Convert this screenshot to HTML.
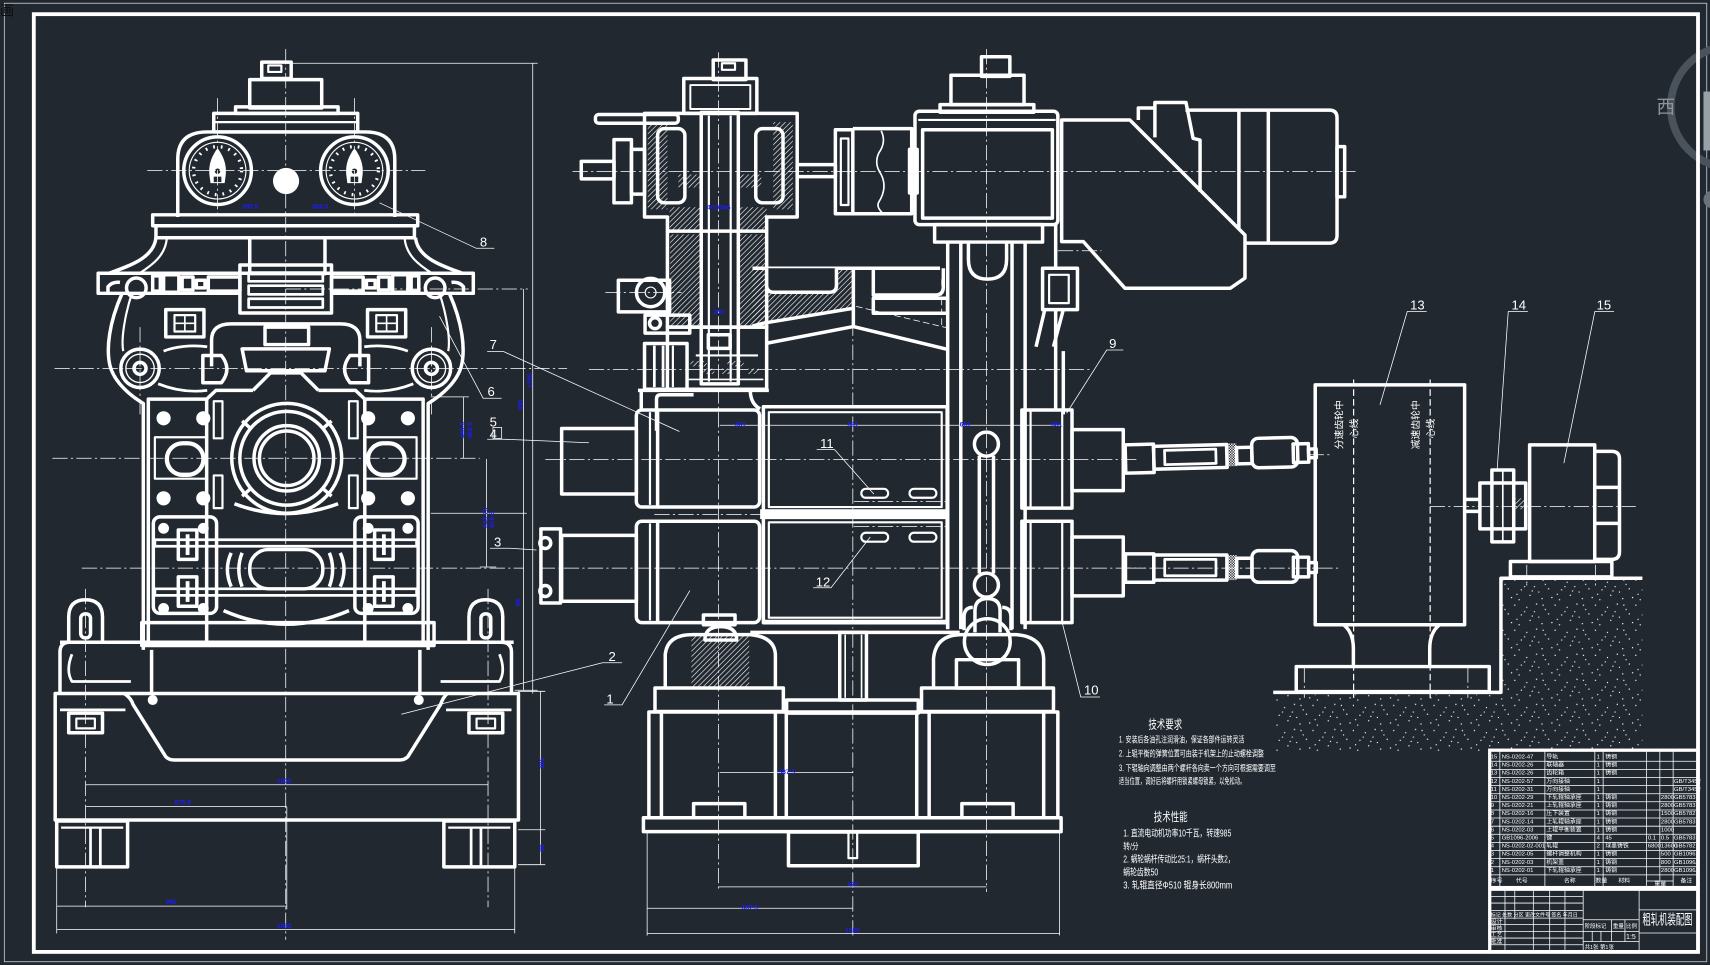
<!DOCTYPE html>
<html><head><meta charset="utf-8"><style>
html,body{margin:0;padding:0;background:#212830;overflow:hidden}
svg{display:block}
.t{fill:none;stroke:#fff;stroke-width:3.2;stroke-linejoin:round}
.n{fill:none;stroke:#fff;stroke-width:.7}
.c{fill:none;stroke:#fff;stroke-width:.7;stroke-dasharray:14 3 2 3}
.d{fill:none;stroke:#fff;stroke-width:1.1;stroke-dasharray:6 3}
.lb{fill:#fff;font-family:"Liberation Sans",sans-serif;font-size:12px}
.bl{fill:#1c1cff;font-family:"Liberation Sans",sans-serif;font-size:6px;font-weight:bold}
.cn{fill:#fff;font-family:"Liberation Sans","Noto Sans CJK SC",sans-serif}
.pl{fill:#fff;font-family:"Liberation Sans","Noto Sans CJK SC",sans-serif;font-size:5.4px}
</style></head><body>
<svg width="1710" height="965" viewBox="0 0 1568 885" preserveAspectRatio="none" xmlns="http://www.w3.org/2000/svg">
<defs>
<pattern id="hatch" width="3.4" height="3.4" patternUnits="userSpaceOnUse" patternTransform="rotate(45)"><line x1="0" y1="0" x2="0" y2="3.4" stroke="#fff" stroke-width="1.1"/></pattern>
<pattern id="chk" width="2.4" height="2.4" patternUnits="userSpaceOnUse"><rect width="1.2" height="1.2" fill="#fff"/><rect x="1.2" y="1.2" width="1.2" height="1.2" fill="#fff"/></pattern>
<pattern id="stip" width="37" height="23" patternUnits="userSpaceOnUse">
<g fill="#fff"><circle cx="3" cy="2" r=".6"/><circle cx="5" cy="14" r=".6"/><circle cx="11" cy="7" r=".6"/><circle cx="17" cy="19" r=".6"/><circle cx="20" cy="3" r=".6"/><circle cx="26" cy="12" r=".6"/><circle cx="31" cy="5" r=".6"/><circle cx="34" cy="17" r=".6"/><circle cx="8" cy="20" r=".6"/><circle cx="14" cy="11" r=".6"/><circle cx="24" cy="21" r=".6"/><circle cx="29" cy="9" r=".6"/><circle cx="1" cy="9" r=".6"/><circle cx="36" cy="13" r=".6"/><circle cx="22" cy="16" r=".6"/><circle cx="9" cy="3" r=".6"/></g></pattern>
<g id="LH" class="t">
<path d="M143,218 C141,237 118,244 100,250.6"/>
<path d="M153,218 C152,235 138,244 128,250.6" stroke-width="2"/>
<path d="M262,250.6 L90,250.6 L90,269 L99,269 L99,263 Q103,258 110,259"/>
<circle cx="125" cy="264" r="9"/>
<rect x="140" y="253" width="7" height="14"/>
<rect x="150" y="252" width="14" height="16"/>
<rect x="167" y="254" width="10" height="12"/>
<rect x="180" y="257" width="8" height="7"/>
<rect x="191" y="254" width="29" height="13"/>
<line x1="99" y1="269" x2="220" y2="269"/>
<path d="M112,269 C100,296 97,320 101,336 C105,350 118,362 131.4,370 L131.4,596"/>
<path d="M121,269 C114,290 111,312 113,322" stroke-width="2"/>
<rect x="152" y="284" width="35" height="25"/>
<rect x="160" y="289" width="19" height="15" stroke-width="2"/>
<line x1="169.5" y1="289" x2="169.5" y2="304" stroke-width="1.5"/>
<line x1="160" y1="296.5" x2="179" y2="296.5" stroke-width="1.5"/>
<path d="M150,322 C160,318 175,316 190,318" stroke-width="2.5"/>
<path d="M145,352 C160,358 175,360 190,358" stroke-width="2.5"/>
<circle cx="128.4" cy="337.8" r="17.6"/>
<circle cx="128.4" cy="337.8" r="13" stroke-width="1.2"/>
<circle cx="128.4" cy="337.8" r="5.5"/>
<path d="M186,326 L203,326 Q213,338.5 203,351 L186,351 Z"/>
<path d="M194,336 L194,312 Q194,297 212,297 L262,297"/>
<path d="M136,593 L136,366 L189.5,366"/>
<path d="M189.5,593 L189.5,366 L198,358 L232,358"/>
<rect x="196" y="368" width="8" height="34" stroke-width="2"/>
<rect x="196" y="436" width="8" height="30" stroke-width="2"/>
<g fill="#fff" stroke="none"><circle cx="150" cy="383.6" r="6.5"/><circle cx="186.4" cy="383.6" r="6.5"/><circle cx="150" cy="457" r="6.5"/><circle cx="186.4" cy="457" r="6.5"/>
<circle cx="150" cy="484.5" r="5"/><circle cx="186.4" cy="484.5" r="5"/><circle cx="150" cy="558" r="5"/><circle cx="186.4" cy="558" r="5"/></g>
<rect x="142" y="401" width="47.5" height="38" stroke-width="2"/>
<rect x="153" y="406.5" width="33.6" height="29" rx="14.5" stroke-width="4"/>
<rect x="140.6" y="474" width="58" height="88.5" rx="6"/>
<rect x="163.5" y="486" width="17" height="27"/>
<rect x="163.5" y="529" width="17" height="27"/>
<line x1="172" y1="490" x2="172" y2="509" stroke-width="3.5"/>
<line x1="172" y1="533" x2="172" y2="552" stroke-width="3.5"/>
<path d="M212,507 Q205,522 212,538"/>
<path d="M222,507 Q216,522 222,538"/>
<path d="M63,590 L63,566 Q63,550 78.5,550 Q94,550 94,566 L94,590"/>
<rect x="74" y="563" width="9" height="22" rx="4"/>
<path d="M55,636 L55,598 Q55,589 64,589 L229,589"/>
<line x1="139" y1="596" x2="139" y2="636"/>
<path d="M66,600 Q60,615 66,625 L120,625" stroke-width="2.5"/>
<line x1="55" y1="651" x2="115" y2="651" stroke-width="2.5"/>
<rect x="63" y="654" width="31" height="18"/>
<rect x="70" y="659" width="17" height="9" stroke-width="2"/>
<rect x="52" y="753" width="65" height="42"/>
<line x1="56" y1="759" x2="113" y2="759" stroke-width="2"/>
<line x1="83" y1="759" x2="83" y2="795" stroke-width="2.5"/>
<line x1="92" y1="759" x2="92" y2="795" stroke-width="2.5"/>
<circle cx="140" cy="642" r="3" fill="#fff"/>
</g>
</defs>

<rect width="1568" height="885" fill="#212830"/>
<rect x="4" y="3" width="1561" height="879" fill="none" stroke="#bfc3c8" stroke-width=".8"/>
<text x="0" y="14" font-size="13" fill="#0c0e11" font-family="Noto Sans CJK SC,sans-serif">画</text>

<!-- viewcube remnant -->
<circle cx="1588" cy="98" r="56" fill="none" stroke="#4a525c" stroke-width="7"/>
<text x="1519" y="104" font-size="17" fill="#8d949c" font-family="Liberation Sans,Noto Sans CJK SC,sans-serif">西</text>
<rect x="1562" y="84" width="8" height="54" fill="#9aa0a6"/>
<circle cx="1570" cy="183" r="8" fill="#6b7178"/>

<!-- ================= LEFT VIEW ================= -->
<use href="#LH"/>
<use href="#LH" transform="matrix(-1 0 0 1 524 0)"/>
<g class="t">
<rect x="240" y="57" width="27" height="15"/>
<rect x="246" y="60" width="12" height="6" stroke-width="2"/>
<rect x="229" y="73" width="66" height="26"/>
<rect x="216" y="98" width="94" height="6"/>
<rect x="196" y="104" width="132" height="17"/>
<line x1="196" y1="112" x2="328" y2="112" stroke-width="2"/>
<path d="M163,199 L163,146 Q163,121 190,121 L335,121 Q362,121 362,146 L362,199"/>
<circle cx="199.5" cy="156.5" r="31"/>
<circle cx="325" cy="156.5" r="31"/>
<circle cx="199.5" cy="156.5" r="26" stroke-width="1"/>
<circle cx="325" cy="156.5" r="26" stroke-width="1"/>
<circle cx="199.5" cy="156.5" r="22" stroke-width="3" stroke-dasharray="1.6 5.5"/>
<circle cx="325" cy="156.5" r="22" stroke-width="3" stroke-dasharray="1.6 5.5"/>
<rect x="140" y="197" width="243" height="10"/>
<rect x="143" y="207" width="237" height="11"/>
<rect x="229" y="218" width="69" height="33"/>
<rect x="220" y="243" width="84" height="44"/>
<rect x="228" y="250" width="68" height="8" stroke-width="2.5"/>
<rect x="228" y="262" width="68" height="8" stroke-width="2.5"/>
<rect x="228" y="274" width="68" height="8" stroke-width="2.5"/>
<rect x="243" y="300" width="40" height="16"/>
<path d="M222,320 L302,320 L298,340 L226,340 Z"/>
<path d="M232,358 L248,342 L276,342 L292,358"/>
<circle cx="262.9" cy="420.3" r="50.4"/>
<circle cx="262.9" cy="420.3" r="43"/>
<circle cx="262.9" cy="420.3" r="30"/>
<circle cx="262.9" cy="420.3" r="25"/>
<line x1="222" y1="386" x2="230" y2="393"/><line x1="304" y1="386" x2="296" y2="393"/>
<line x1="222" y1="455" x2="230" y2="448"/><line x1="304" y1="455" x2="296" y2="448"/>
<path d="M215,462 Q262,480 310,462"/>
<rect x="142" y="495" width="240" height="6" stroke-width="2.5"/>
<rect x="142" y="540" width="240" height="6" stroke-width="2.5"/>
<rect x="229" y="504" width="67" height="36" rx="17"/>
<path d="M205,560 Q262,585 320,560"/>
<rect x="130" y="571" width="268" height="21"/>
<path d="M114,636 Q120,640 122,646 L152,694 Q155,697 160,697 L366,697 Q371,697 374,694 L404,646 Q406,640 410,636"/>
<rect x="50.6" y="636" width="424.8" height="116"/>
<line x1="55" y1="589" x2="471" y2="589"/>
</g>
<g fill="#fff">
<path d="M199.5,136 C195,142 191,150 192,160 L193,168 L206,168 L207,160 C208,150 204,142 199.5,136 Z"/>
<path d="M325,136 C320.5,142 316.5,150 317.5,160 L318.5,168 L331.5,168 L332.5,160 C333.5,150 329.5,142 325,136 Z"/>
<circle cx="262.3" cy="166" r="12"/>
</g>
<g fill="#212830"><circle cx="199.5" cy="157" r="2.5"/><circle cx="325" cy="157" r="2.5"/><rect x="196" y="162" width="7" height="5"/><rect x="321.5" y="162" width="7" height="5"/></g>
<!-- left view centre lines -->
<g class="c">
<line x1="262" y1="45" x2="262" y2="862"/>
<line x1="135" y1="156.5" x2="390" y2="156.5"/>
<line x1="199.5" y1="90" x2="199.5" y2="200"/><line x1="325" y1="90" x2="325" y2="200"/>
<line x1="50" y1="337.8" x2="520" y2="337.8"/>
<line x1="48" y1="420.3" x2="440" y2="420.3"/>
<line x1="75" y1="521" x2="480" y2="521"/>
<line x1="128.4" y1="300" x2="128.4" y2="380"/><line x1="395.6" y1="300" x2="395.6" y2="380"/>
<line x1="78.5" y1="540" x2="78.5" y2="832"/><line x1="447.5" y1="540" x2="447.5" y2="832"/>
<line x1="262" y1="265" x2="484" y2="265"/>
</g>
<g class="n">
<line x1="262" y1="58" x2="493" y2="58"/>
<line x1="488.5" y1="58" x2="488.5" y2="636"/>
<line x1="480" y1="265" x2="480" y2="633"/>
<line x1="425" y1="364" x2="425" y2="420"/><line x1="395" y1="364" x2="430" y2="364"/>
<line x1="446" y1="421" x2="446" y2="520"/><line x1="440" y1="520" x2="455" y2="520"/>
<line x1="395" y1="470.7" x2="483" y2="470.7"/>
<line x1="472" y1="633" x2="493" y2="633"/>
<line x1="78.5" y1="719.7" x2="447.5" y2="719.7"/>
<line x1="78.5" y1="739.6" x2="263" y2="739.6"/>
<line x1="52" y1="795" x2="52" y2="856"/><line x1="472" y1="795" x2="472" y2="856"/>
<line x1="52" y1="831" x2="263" y2="831"/>
<line x1="52" y1="852.6" x2="472" y2="852.6"/>
<line x1="263" y1="740" x2="263" y2="834"/>
<line x1="495.5" y1="634" x2="495.5" y2="793"/>
<line x1="475" y1="634" x2="500" y2="634"/><line x1="475" y1="761" x2="500" y2="761"/><line x1="475" y1="793" x2="500" y2="793"/>
</g>
<g class="bl">
<text x="222" y="191">282.5</text><text x="286" y="191">282.5</text>
<text x="254" y="718">1800</text><text x="160" y="738">875.0</text><text x="152" y="829">991</text><text x="254" y="851">1982</text>
<text transform="translate(499,705) rotate(-90)">305</text><text transform="translate(499,781) rotate(-90)">80</text>
<text transform="translate(488,356) rotate(-90)">1785</text><text transform="translate(479,376) rotate(-90)">881</text>
<text transform="translate(426,402) rotate(-90)">435.5</text><text transform="translate(433,402) rotate(-90)">460.5</text>
<text transform="translate(447,484) rotate(-90)">843.75</text><text transform="translate(453,484) rotate(-90)">815.5</text>
<text transform="translate(477,556) rotate(-90)">80</text>
</g>

<!-- ================= MIDDLE VIEW ================= -->
<g fill="url(#hatch)" stroke="none">
<rect x="594" y="112" width="18" height="80"/>
<rect x="709" y="112" width="18" height="80"/>
<rect x="614" y="190" width="29" height="22"/><rect x="677" y="190" width="26" height="22"/>
<rect x="614.5" y="215" width="27" height="84"/><rect x="678.6" y="215" width="24" height="84"/>
<path d="M690,246 L782,246 L782,283 L700,296.4 L690,299 Z"/>
<rect x="622" y="160" width="21" height="12"/><rect x="677" y="160" width="21" height="12"/>
<rect x="634" y="583" width="53" height="47"/>
<rect x="633" y="331" width="15" height="5"/><rect x="667" y="331" width="15" height="5"/>
<rect x="645" y="338" width="10" height="5"/><rect x="662" y="338" width="10" height="5"/>
<rect x="686" y="338" width="10" height="5"/>
</g>
<g class="t">
<rect x="654" y="55" width="30" height="18"/>
<rect x="662" y="58" width="12" height="6" stroke-width="2"/>
<rect x="627" y="72" width="67" height="32"/>
<rect x="633" y="78" width="55" height="22" stroke-width="1.8"/>
<rect x="546" y="105" width="76" height="8" rx="3"/>
<path d="M591,199 L591,104 L731,104 L731,199 L703,199 L703,212 L612,212 L612,199 Z"/>
<rect x="603" y="118" width="25" height="68" rx="6"/>
<rect x="693" y="118" width="25" height="68" rx="6"/>
<rect x="643" y="103" width="34" height="249"/>
<line x1="650" y1="106" x2="650" y2="350" stroke-width="2"/>
<line x1="670" y1="106" x2="670" y2="350" stroke-width="2"/>
<rect x="533" y="148" width="30" height="16"/>
<rect x="563" y="128" width="16" height="58"/>
<rect x="579" y="137" width="12" height="41"/>
<rect x="731" y="151" width="35" height="11"/>
<rect x="766" y="119" width="16" height="77"/>
<rect x="771" y="127" width="7" height="61" stroke-width="2"/>
<path d="M782,118 L836,118 L836,196 L782,196"/>
<path d="M808,120 Q813,130 806,140 Q801,150 808,160 Q814,172 806,185 Q803,190 810,196" stroke-width="1.5"/>
<rect x="834" y="137" width="7" height="40"/>
<path d="M612,212 L612,300 L703,300 L703,212"/>
<path d="M690,246 L862,246"/>
<path d="M703,246 L703,262 Q703,268 709,268 L761,268 Q767,268 767,262 L767,246" fill="#212830"/>
<line x1="782.5" y1="246" x2="782.5" y2="300"/>
<path d="M800.8,246 L800.8,270.5 L858,270.5 Q865,270.5 865,263 L865,246"/>
<rect x="800.8" y="273.5" width="68" height="13.8"/>
<path d="M690,299 L700,296.4 L782.5,282.7"/>
<path d="M703,314.8 L782.5,299.5 L869,320.5"/>
<rect x="567" y="257" width="47" height="29"/>
<circle cx="596.6" cy="268.3" r="13"/><circle cx="596.6" cy="268.3" r="5" stroke-width="1"/>
<rect x="591.5" y="289" width="41" height="16.5"/>
<circle cx="600.6" cy="296.4" r="5"/>
<rect x="591" y="315" width="39" height="42"/>
<line x1="600" y1="317" x2="600" y2="355" stroke-width="2.5"/><line x1="608" y1="317" x2="608" y2="355" stroke-width="2.5"/><line x1="617" y1="317" x2="617" y2="355" stroke-width="2"/>
<rect x="612" y="300" width="91" height="57"/>
<rect x="649.5" y="307" width="20" height="12.5"/>
<line x1="638" y1="326" x2="695" y2="326" stroke-width="2"/>
<line x1="630" y1="348" x2="700" y2="348" stroke-width="1.5"/>
<line x1="585" y1="358" x2="705" y2="358"/>
<path d="M602,395 L602,366 Q602,362 606,362 L636,362"/>
<line x1="588" y1="358" x2="588" y2="376"/>
<path d="M688,358 Q688,370 697,375"/>
<!-- right stand top -->
<rect x="900" y="52" width="26" height="18"/>
<rect x="872" y="69" width="67" height="27"/>
<rect x="862" y="96" width="86" height="7"/>
<rect x="839" y="102" width="131" height="104" rx="4"/>
<line x1="842" y1="110" x2="968" y2="110" stroke-width="2"/>
<rect x="846" y="119" width="119" height="81"/>
<rect x="857" y="206" width="99" height="16"/>
<line x1="869" y1="222" x2="869" y2="577"/><line x1="881" y1="222" x2="881" y2="577"/>
<line x1="928" y1="222" x2="928" y2="577"/><line x1="940" y1="222" x2="940" y2="577"/>
<path d="M888,222 L888,238 Q888,256 905.5,256 Q923,256 923,238 L923,222"/>
<rect x="956" y="246" width="32" height="38"/>
<rect x="962" y="252" width="18" height="26" stroke-width="2"/>
<path d="M958,284 L950,318 M975,284 L966,318"/>
<line x1="968" y1="206" x2="968" y2="246"/><line x1="968" y1="284" x2="968" y2="376"/>
<line x1="975" y1="322" x2="975" y2="380"/>
<!-- reducer & motor -->
<path d="M973.5,110 L1036,110 L1141.6,215.5 L1141.6,255 L1128,264.4 L1031.6,264.4 L993.4,221.6 L973.5,221.6 Z"/>
<path d="M1043.8,110 L1043.8,99 L1059,99 L1059,94 L1087.5,94 L1094,126.8 L1100.4,128.4 L1100.4,176"/>
<line x1="1059" y1="99" x2="1059" y2="126"/>
<path d="M1087,101 L1219,101 Q1226,101 1226,108 L1226,216 Q1226,223 1219,223 L1141,223"/>
<line x1="1136" y1="101" x2="1136" y2="210"/>
<line x1="1163" y1="101" x2="1163" y2="223"/>
<rect x="1226" y="134.5" width="7" height="46"/>
<!-- roll section -->
<rect x="515" y="393" width="68.5" height="60"/>
<rect x="583.5" y="376" width="113" height="89" rx="5"/>
<line x1="596" y1="378" x2="596" y2="463" stroke-width="2"/>
<line x1="603" y1="376" x2="603" y2="465"/>
<rect x="515" y="491" width="68.5" height="60.4"/>
<rect x="583.5" y="478" width="113" height="93" rx="5"/>
<line x1="596" y1="480" x2="596" y2="569" stroke-width="2"/>
<line x1="603" y1="478" x2="603" y2="571"/>
<rect x="700" y="373" width="168.5" height="96.6"/>
<rect x="705" y="378" width="158.5" height="87" stroke-width="2"/>
<rect x="700" y="474.5" width="168.5" height="96.6"/>
<rect x="705" y="479" width="158.5" height="87.5" stroke-width="2"/>
<rect x="789.8" y="448.3" width="24.6" height="8.2" rx="4" stroke-width="2"/>
<rect x="834" y="448.3" width="24.6" height="8.2" rx="4" stroke-width="2"/>
<rect x="789.8" y="488.6" width="24.6" height="8.2" rx="4" stroke-width="2"/>
<rect x="834" y="488.6" width="24.6" height="8.2" rx="4" stroke-width="2"/>
<rect x="496" y="485" width="18" height="68"/>
<circle cx="500" cy="498" r="5"/><circle cx="500" cy="542" r="5"/>
<line x1="898" y1="418" x2="898" y2="526"/><line x1="911" y1="418" x2="911" y2="526"/>
<circle cx="904.5" cy="407.3" r="11"/><circle cx="904.5" cy="536.6" r="11"/>
<rect x="937" y="376" width="46" height="90"/>
<line x1="945" y1="376" x2="945" y2="466" stroke-width="2"/><line x1="974" y1="376" x2="974" y2="466" stroke-width="2"/>
<rect x="937" y="478" width="46" height="93"/>
<line x1="945" y1="478" x2="945" y2="571" stroke-width="2"/><line x1="974" y1="478" x2="974" y2="571" stroke-width="2"/>
<rect x="983" y="394" width="47" height="56"/>
<rect x="983" y="492.5" width="47" height="54"/>
<line x1="869" y1="376" x2="869" y2="577"/>
<!-- bottom supports -->
<path d="M610,631 L610,600 Q612,582 635,582 L688,582 Q710,584 711,600 L711,631"/>
<rect x="645" y="564" width="29" height="9"/>
<path d="M646.4,587 Q646.4,574.7 661,574.7 Q675.5,574.7 675.5,587 Z"/>
<line x1="688" y1="580" x2="880" y2="580"/>
<path d="M856,631 L856,604 Q858,582 882,582 L932,582 Q956,584 957,604 L957,631"/>
<circle cx="905.3" cy="588.4" r="21"/>
<path d="M894,580 L894,560 Q894,549 905.5,549 Q917,549 917,560 L917,580"/>
<path d="M884,578 L884,566 Q884,557 892,557 M927,578 L927,566 Q927,557 919,557"/>
<rect x="877" y="605" width="57" height="26"/>
<rect x="770" y="580" width="24.5" height="62"/>
<line x1="775" y1="582" x2="775" y2="640" stroke-width="1.5"/><line x1="790" y1="582" x2="790" y2="640" stroke-width="1.5"/>
<line x1="700" y1="570" x2="869" y2="570"/>
<rect x="600.6" y="631" width="117.7" height="21.5"/>
<rect x="845" y="631" width="121" height="21.5"/>
<rect x="721.3" y="642" width="120.7" height="12"/>
<rect x="595" y="653" width="375" height="97"/>
<line x1="606.5" y1="653" x2="606.5" y2="750"/><line x1="711" y1="653" x2="711" y2="750"/>
<line x1="721" y1="653" x2="721" y2="750"/><line x1="840.6" y1="653" x2="840.6" y2="750"/>
<line x1="852" y1="653" x2="852" y2="750"/><line x1="957" y1="653" x2="957" y2="750"/>
<rect x="636" y="737" width="47" height="13"/>
<rect x="882" y="737" width="47" height="13"/>
<rect x="590" y="750" width="383" height="12.7"/>
<rect x="723" y="763" width="119" height="31"/>
<rect x="778" y="763" width="8" height="24" stroke-width="2"/>
</g>
<rect x="697" y="467" width="173" height="9" fill="#fff"/>
<!-- middle centre lines & dims -->
<g class="c">
<line x1="658.8" y1="48" x2="658.8" y2="818"/>
<line x1="782" y1="250" x2="782" y2="860"/>
<line x1="904.5" y1="45" x2="904.5" y2="818"/>
<line x1="525" y1="157.4" x2="1245" y2="157.4"/>
<line x1="555" y1="268.3" x2="625" y2="268.3"/>
<line x1="540" y1="339" x2="1000" y2="339"/>
<line x1="500" y1="421.5" x2="1045" y2="421.5"/>
<line x1="495" y1="521" x2="1050" y2="521"/>
<line x1="600" y1="472" x2="700" y2="472"/>
<line x1="783" y1="460" x2="868" y2="460"/><line x1="783" y1="483" x2="868" y2="483"/>
<line x1="970" y1="230" x2="1010" y2="230"/>
</g>
<g class="n">
<line x1="660" y1="390" x2="975" y2="390"/>
<line x1="660" y1="708.6" x2="782" y2="708.6"/>
<line x1="658.8" y1="813.4" x2="904.5" y2="813.4"/>
<line x1="593.4" y1="833" x2="781.7" y2="833"/>
<line x1="593.4" y1="856" x2="971.6" y2="856"/>
<line x1="593.4" y1="763" x2="593.4" y2="858"/><line x1="971.6" y1="763" x2="971.6" y2="858"/>
<line x1="785" y1="281" x2="870" y2="301" stroke-dasharray="6 3"/>
<line x1="863.5" y1="256" x2="863.5" y2="301" stroke-dasharray="6 3"/>
</g>
<g class="bl">
<text x="648" y="192">Φ100h6</text><text x="654" y="288">250</text>
<text x="674" y="391">681</text><text x="777" y="391">681</text><text x="880" y="391">681</text><text x="964" y="391">681</text>
<text x="714" y="710">587.5</text><text x="777" y="813">870</text><text x="680" y="834">687.5</text><text x="775" y="855">1585</text>
</g>

<!-- spindles -->
<g class="t" transform="rotate(-1.4 1030 421)">
<rect x="1032" y="408" width="26" height="26"/>
<rect x="1058" y="410" width="67" height="21"/>
<rect x="1068" y="414" width="47" height="13" stroke-width="2.5"/>
<rect x="1134" y="413" width="14" height="15"/>
<rect x="1148" y="405" width="42" height="27" rx="6"/>
<rect x="1186" y="411" width="14" height="17"/>
<rect x="1200" y="416" width="7" height="8"/>
</g>
<rect x="1124" y="409" width="10" height="21" fill="url(#chk)" transform="rotate(-1.4 1030 421)"/>
<g class="t">
<rect x="1032" y="508" width="26" height="26"/>
<rect x="1058" y="509" width="67" height="23"/>
<rect x="1068" y="513" width="47" height="15" stroke-width="2.5"/>
<rect x="1134" y="512" width="14" height="17"/>
<rect x="1148" y="505" width="42" height="29" rx="6"/>
<rect x="1186" y="511" width="14" height="18"/>
<rect x="1200" y="516" width="7" height="9"/>
</g>
<rect x="1124" y="509" width="10" height="23" fill="url(#chk)"/>

<!-- stipple ground -->
<path d="M1170,637 L1377,637 L1377,531 L1506,531 L1506,690 L1170,690 Z" fill="url(#stip)"/>
<!-- gearbox 13 -->
<g class="t">
<rect x="1206" y="353" width="137" height="220"/>
<path d="M1232,573 Q1241,580 1241,595 L1241,611"/>
<path d="M1320,573 Q1311,580 1311,595 L1311,611"/>
<rect x="1188.6" y="611.3" width="177" height="23"/>
<path d="M1167.5,635 L1376.3,635 L1376.3,530.3 L1506,530.3"/>
<line x1="1343" y1="458" x2="1357" y2="458"/><line x1="1343" y1="469" x2="1357" y2="469"/>
<rect x="1357" y="443" width="42" height="42"/>
<rect x="1368" y="431" width="20" height="66"/>
<line x1="1378" y1="431" x2="1378" y2="497" stroke-width="1.5"/>
<rect x="1402.6" y="408" width="59.7" height="107"/>
<path d="M1462,414 L1478,414 Q1485,414 1485,421 L1485,506 Q1485,513 1478,513 L1462,513"/>
<line x1="1462" y1="447" x2="1485" y2="447"/><line x1="1462" y1="480" x2="1485" y2="480"/>
<rect x="1385" y="515" width="93" height="14"/>
</g>
<rect x="1388" y="457" width="12" height="10" fill="url(#hatch)"/>
<g class="d">
<line x1="1241.2" y1="348" x2="1241.2" y2="640"/>
<line x1="1311.4" y1="348" x2="1311.4" y2="640"/>
</g>
<g class="c">
<line x1="1311" y1="464.6" x2="1500" y2="464.6"/>
<line x1="1032" y1="521" x2="1230" y2="521"/>
<line x1="1200" y1="417" x2="1222" y2="417"/>
<line x1="1196" y1="612" x2="1196" y2="640"/><line x1="1346" y1="612" x2="1346" y2="640"/>
<line x1="1400" y1="518" x2="1400" y2="540"/><line x1="1463" y1="518" x2="1463" y2="540"/>
</g>
<g class="cn" font-size="9">
<text transform="translate(1231,412) rotate(-90)">分速齿轮中</text>
<text transform="translate(1245,402) rotate(-90)">心线</text>
<text transform="translate(1301,412) rotate(-90)">减速齿轮中</text>
<text transform="translate(1315,402) rotate(-90)">心线</text>
</g>

<!-- leaders & item numbers -->
<g class="n" stroke-width=".9">
<path d="M348,186 L436.7,227.7 L453.3,227.7"/>
<path d="M623,395.7 L461.7,322.4 L446.7,322.4"/>
<path d="M403,290 L443,365.2 L460,365.2"/>
<path d="M540,406 L461.7,402.8 L446.7,402.8"/>
<rect x="452" y="392" width="8" height="10"/>
<path d="M492,504.4 L467.7,502.8 L449.3,502.8"/>
<path d="M368,655 L552.4,607.8 L570.4,607.8"/>
<path d="M632.6,541.6 L570.4,646.4 L554,646.4"/>
<path d="M801.3,453.2 L765.3,412.3 L748.9,412.3"/>
<path d="M798,492.5 L762,539 L745.6,539"/>
<path d="M978,379 L1014.8,321 L1030,321"/>
<path d="M973.2,567.8 L991,639.2 L1008.6,639.2"/>
<path d="M1265.4,371.3 L1290.4,285.7 L1308.2,285.7"/>
<path d="M1372.8,430.9 L1383,285.7 L1401,285.7"/>
<path d="M1434,424.8 L1462.4,285.7 L1480,285.7"/>
</g>
<g class="lb">
<text x="440" y="226">8</text><text x="449" y="320">7</text><text x="447" y="363">6</text>
<text x="449" y="391">5</text><text x="449" y="402">4</text><text x="453" y="501">3</text>
<text x="558" y="606">2</text><text x="556" y="645">1</text>
<text x="1017" y="319">9</text><text x="994" y="637">10</text>
<text x="752" y="411">11</text><text x="748" y="538">12</text>
<text x="1293" y="284">13</text><text x="1386" y="284">14</text><text x="1464" y="284">15</text>
</g>

<!-- technical text -->
<g class="cn">
<text x="1053" y="668" font-size="11" textLength="31" lengthAdjust="spacingAndGlyphs">技术要求</text>
<text x="1026" y="681" font-size="8" textLength="115" lengthAdjust="spacingAndGlyphs">1. 安装后各油孔注润滑油，保证各部件运转灵活</text>
<text x="1026" y="694" font-size="8" textLength="133" lengthAdjust="spacingAndGlyphs">2. 上辊平衡的弹簧位置可由装于机架上的止动螺栓调整</text>
<text x="1026" y="707" font-size="8" textLength="144" lengthAdjust="spacingAndGlyphs">3. 下辊轴向调整由两个螺杆各向卖一个方向可根据需要调至</text>
<text x="1026" y="719" font-size="8" textLength="116" lengthAdjust="spacingAndGlyphs">适当位置，调好后将螺杆用锁紧螺母锁紧，以免松动。</text>
<text x="1058" y="753" font-size="11" textLength="31" lengthAdjust="spacingAndGlyphs">技术性能</text>
<text x="1030" y="767" font-size="9" textLength="99" lengthAdjust="spacingAndGlyphs">1. 直流电动机功率10千瓦，转速985</text>
<text x="1030" y="779" font-size="8.5" textLength="14" lengthAdjust="spacingAndGlyphs">转/分</text>
<text x="1030" y="791" font-size="9" textLength="102" lengthAdjust="spacingAndGlyphs">2. 蜗轮蜗杆传动比25:1，蜗杆头数2，</text>
<text x="1030" y="803" font-size="9" textLength="32" lengthAdjust="spacingAndGlyphs">蜗轮齿数50</text>
<text x="1030" y="815" font-size="9" textLength="100" lengthAdjust="spacingAndGlyphs">3. 轧辊直径Φ510 辊身长800mm</text>
</g>

<!-- title block -->
<rect x="1366" y="688" width="191" height="185" fill="#212830" stroke="#fff" stroke-width="3"/>
<g class="n" stroke-width=".8">
<line x1="1366" y1="698.1" x2="1557" y2="698.1"/><line x1="1366" y1="705.6" x2="1557" y2="705.6"/>
<line x1="1366" y1="713" x2="1557" y2="713"/><line x1="1366" y1="720.5" x2="1557" y2="720.5"/>
<line x1="1366" y1="727.9" x2="1557" y2="727.9"/><line x1="1366" y1="735.3" x2="1557" y2="735.3"/>
<line x1="1366" y1="742.8" x2="1557" y2="742.8"/><line x1="1366" y1="750.2" x2="1557" y2="750.2"/>
<line x1="1366" y1="757.7" x2="1557" y2="757.7"/><line x1="1366" y1="765.1" x2="1557" y2="765.1"/>
<line x1="1366" y1="772.5" x2="1557" y2="772.5"/><line x1="1366" y1="780" x2="1557" y2="780"/>
<line x1="1366" y1="787.4" x2="1557" y2="787.4"/><line x1="1366" y1="794.9" x2="1557" y2="794.9"/>
<line x1="1366" y1="802.3" x2="1557" y2="802.3"/>
<line x1="1375.3" y1="688" x2="1375.3" y2="813"/><line x1="1416.6" y1="688" x2="1416.6" y2="813"/>
<line x1="1462.4" y1="688" x2="1462.4" y2="813"/><line x1="1470" y1="688" x2="1470" y2="813"/>
<line x1="1509.8" y1="688" x2="1509.8" y2="813"/><line x1="1522" y1="688" x2="1522" y2="808"/>
<line x1="1534.2" y1="688" x2="1534.2" y2="813"/>
<line x1="1509.8" y1="808" x2="1534.2" y2="808"/>
<line x1="1380" y1="817" x2="1380" y2="873"/><line x1="1389" y1="817" x2="1389" y2="843"/>
<line x1="1406" y1="817" x2="1406" y2="873"/><line x1="1421" y1="817" x2="1421" y2="873"/>
<line x1="1435" y1="817" x2="1435" y2="873"/><line x1="1451.7" y1="817" x2="1451.7" y2="873"/>
<line x1="1366" y1="822.1" x2="1451.7" y2="822.1"/><line x1="1366" y1="828.2" x2="1451.7" y2="828.2"/>
<line x1="1366" y1="835" x2="1451.7" y2="835"/><line x1="1366" y1="842" x2="1451.7" y2="842"/>
<line x1="1366" y1="848" x2="1451.7" y2="848"/><line x1="1366" y1="854.2" x2="1451.7" y2="854.2"/>
<line x1="1366" y1="860.3" x2="1451.7" y2="860.3"/><line x1="1366" y1="866.4" x2="1451.7" y2="866.4"/>
<line x1="1451.7" y1="843.5" x2="1503" y2="843.5"/><line x1="1451.7" y1="854.2" x2="1503" y2="854.2"/>
<line x1="1451.7" y1="863.4" x2="1503" y2="863.4"/>
<line x1="1477.7" y1="843.5" x2="1477.7" y2="863.4"/><line x1="1490" y1="843.5" x2="1490" y2="863.4"/>
<line x1="1460" y1="854.2" x2="1460" y2="863.4"/><line x1="1468" y1="854.2" x2="1468" y2="863.4"/>
<line x1="1503" y1="817" x2="1503" y2="873"/>
<line x1="1503" y1="834.4" x2="1557" y2="834.4"/><line x1="1503" y1="855.7" x2="1557" y2="855.7"/>
</g>
<rect x="1366" y="812.5" width="191" height="4.5" fill="#fff"/>
<g class="pl">
<text x="1367" y="695.5">15</text><text x="1377" y="695.5">NS-0202-47</text><text x="1418" y="695.5">导轨</text><text x="1464" y="695.5">1</text><text x="1472" y="695.5">铸钢</text>
<text x="1367" y="703">14</text><text x="1377" y="703">NS-0202-26</text><text x="1418" y="703">联轴器</text><text x="1464" y="703">1</text><text x="1472" y="703">铸钢</text>
<text x="1367" y="710.4">13</text><text x="1377" y="710.4">NS-0202-26</text><text x="1418" y="710.4">齿轮箱</text><text x="1464" y="710.4">1</text><text x="1472" y="710.4">铸钢</text>
<text x="1367" y="717.9">12</text><text x="1377" y="717.9">NS-0202-57</text><text x="1418" y="717.9">万向接轴</text><text x="1464" y="717.9">1</text><text x="1535" y="717.9">GB/T3452</text>
<text x="1367" y="725.3">11</text><text x="1377" y="725.3">NS-0202-31</text><text x="1418" y="725.3">万向接轴</text><text x="1464" y="725.3">1</text><text x="1535" y="725.3">GB/T3452</text>
<text x="1367" y="732.7">10</text><text x="1377" y="732.7">NS-0202-29</text><text x="1418" y="732.7">下轧辊轴承座</text><text x="1464" y="732.7">1</text><text x="1472" y="732.7">铸钢</text><text x="1523" y="732.7">2800</text><text x="1535" y="732.7">GB5783</text>
<text x="1367" y="740.2">9</text><text x="1377" y="740.2">NS-0202-21</text><text x="1418" y="740.2">上轧辊轴承座</text><text x="1464" y="740.2">1</text><text x="1472" y="740.2">铸钢</text><text x="1523" y="740.2">2800</text><text x="1535" y="740.2">GB5783</text>
<text x="1367" y="747.6">8</text><text x="1377" y="747.6">NS-0202-16</text><text x="1418" y="747.6">压下装置</text><text x="1464" y="747.6">1</text><text x="1472" y="747.6">铸钢</text><text x="1523" y="747.6">1500</text><text x="1535" y="747.6">GB5782</text>
<text x="1367" y="755.1">7</text><text x="1377" y="755.1">NS-0202-14</text><text x="1418" y="755.1">上轧辊轴承座</text><text x="1464" y="755.1">1</text><text x="1472" y="755.1">铸钢</text><text x="1523" y="755.1">2800</text><text x="1535" y="755.1">GB5783</text>
<text x="1367" y="762.5">6</text><text x="1377" y="762.5">NS-0202-03</text><text x="1418" y="762.5">上辊平衡装置</text><text x="1464" y="762.5">1</text><text x="1472" y="762.5">铸钢</text><text x="1523" y="762.5">1000</text>
<text x="1367" y="769.9">5</text><text x="1377" y="769.9">GB1096-2006</text><text x="1418" y="769.9">键</text><text x="1464" y="769.9">4</text><text x="1472" y="769.9">45</text><text x="1511" y="769.9">0.1</text><text x="1523" y="769.9">0.5</text><text x="1535" y="769.9">GB5783</text>
<text x="1367" y="777.4">4</text><text x="1377" y="777.4">NS-0202-02-001</text><text x="1418" y="777.4">轧辊</text><text x="1464" y="777.4">2</text><text x="1472" y="777.4">球墨铸铁</text><text x="1511" y="777.4">6800</text><text x="1523" y="777.4">13600</text><text x="1535" y="777.4">GB5782</text>
<text x="1367" y="784.8">3</text><text x="1377" y="784.8">NS-0202-05</text><text x="1418" y="784.8">螺杆调整机构</text><text x="1464" y="784.8">1</text><text x="1472" y="784.8">铸钢</text><text x="1523" y="784.8">500</text><text x="1535" y="784.8">GB1096</text>
<text x="1367" y="792.3">2</text><text x="1377" y="792.3">NS-0202-03</text><text x="1418" y="792.3">机架盖</text><text x="1464" y="792.3">1</text><text x="1472" y="792.3">铸钢</text><text x="1523" y="792.3">800</text><text x="1535" y="792.3">GB1096A</text>
<text x="1367" y="799.7">1</text><text x="1377" y="799.7">NS-0202-01</text><text x="1418" y="799.7">下轧辊轴承座</text><text x="1464" y="799.7">1</text><text x="1472" y="799.7">铸钢</text><text x="1523" y="799.7">2800</text><text x="1535" y="799.7">GB1096A</text>
<text x="1367" y="809.5">序号</text><text x="1390" y="809.5">代号</text><text x="1434" y="809.5">名称</text><text x="1463" y="809.5">数量</text><text x="1484" y="809.5">材料</text><text x="1517" y="812">重量</text><text x="1541" y="809.5">备注</text>
<text x="1367" y="840.5" font-size="4.6">标记 处数 分区 更改文件号 签名 年月日</text>
<text x="1367" y="847">设计</text><text x="1367" y="853">审核</text><text x="1367" y="859">工艺</text><text x="1367" y="865.5">批准</text>
<text x="1453" y="851" font-size="5">阶段标记</text><text x="1479" y="851" font-size="5">重量</text><text x="1491" y="851" font-size="5">比例</text>
<text x="1491" y="861" font-size="6.5">1:5</text>
<text x="1453" y="870.5" font-size="5">共1张 第1张</text>
</g>
<text x="1506" y="848" class="cn" font-size="13" textLength="46" lengthAdjust="spacingAndGlyphs">粗轧机装配图</text>

<!-- frame -->
<rect x="31" y="13" width="1526" height="860" fill="none" stroke="#fff" stroke-width="3.5"/>
</svg>
</body></html>
